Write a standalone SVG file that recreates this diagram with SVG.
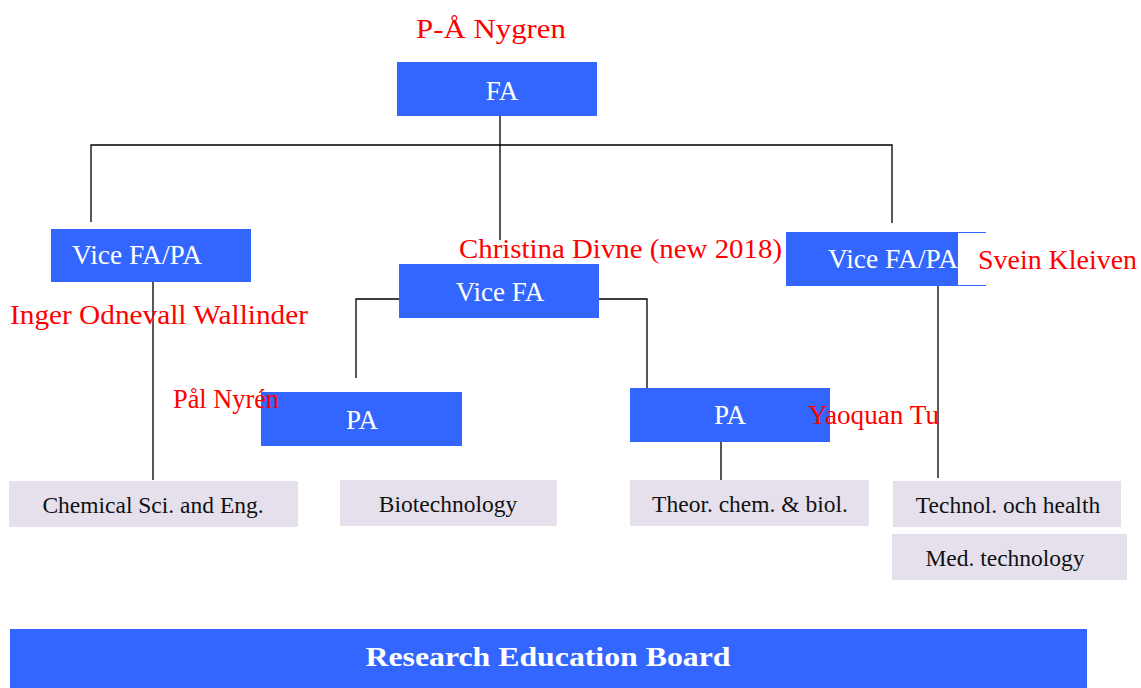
<svg xmlns="http://www.w3.org/2000/svg" width="1141" height="688" viewBox="0 0 1141 688">
<style>
.blue{fill:#3366FF}
.lav{fill:#E5E0EC}
.wt{fill:#FFFFFF;font-family:"Liberation Serif",serif;font-size:27px}
.bt{fill:#111111;font-family:"Liberation Serif",serif;font-size:23.5px;text-anchor:middle}
.red{fill:#FF0000;font-family:"Liberation Serif",serif;font-size:27px}
.ln{stroke:#000000;stroke-width:1.3;fill:none}
</style>
<rect width="1141" height="688" fill="#FFFFFF"/>
<g id="connectors">
<path class="ln" d="M500,116 V240 M91,222 V145 H892 V223 M153,282 V480 M399,299 H356 V378 M599,299 H647 V388 M938,286 V478 M721,442 V480"/>
</g>
<g id="fa">
<rect class="blue" x="397" y="62" width="200" height="54"/>
<text class="wt" x="502" y="100" text-anchor="middle">FA</text>
<text class="red" x="416" y="38" font-size="30" textLength="150" lengthAdjust="spacingAndGlyphs">P-Å Nygren</text>
</g>
<g id="vice-left">
<rect class="blue" x="51" y="229" width="200" height="53"/>
<text class="wt" x="72" y="264" textLength="130" lengthAdjust="spacingAndGlyphs">Vice FA/PA</text>
<text class="red" x="10" y="324" textLength="298" lengthAdjust="spacingAndGlyphs">Inger Odnevall Wallinder</text>
</g>
<g id="vice-center">
<rect class="blue" x="399" y="264" width="200" height="54"/>
<text class="wt" x="500" y="301" text-anchor="middle">Vice FA</text>
<text class="red" x="459" y="258" textLength="323" lengthAdjust="spacingAndGlyphs">Christina Divne (new 2018)</text>
</g>
<g id="vice-right">
<rect class="blue" x="786" y="232" width="200" height="54"/>
<rect x="958" y="233" width="28" height="52" fill="#FFFFFF"/>
<text class="wt" x="828" y="268" textLength="130" lengthAdjust="spacingAndGlyphs">Vice FA/PA</text>
<text class="red" x="978" y="269" textLength="159" lengthAdjust="spacingAndGlyphs">Svein Kleiven</text>
</g>
<g id="pa-left">
<rect class="blue" x="261" y="392" width="201" height="54"/>
<text class="wt" x="362" y="429" text-anchor="middle">PA</text>
<text class="red" x="173" y="408" font-size="24" textLength="106" lengthAdjust="spacingAndGlyphs">Pål Nyrén</text>
</g>
<g id="pa-right">
<rect class="blue" x="630" y="388" width="200" height="54"/>
<text class="wt" x="730" y="424" text-anchor="middle">PA</text>
<text class="red" x="808" y="424" font-size="25" textLength="131" lengthAdjust="spacingAndGlyphs">Yaoquan Tu</text>
</g>
<g id="chem">
<rect class="lav" x="9" y="481" width="289" height="46"/>
<text class="bt" x="153" y="513">Chemical Sci. and Eng.</text>
</g>
<g id="biotech">
<rect class="lav" x="340" y="480" width="217" height="46"/>
<text class="bt" x="448" y="512">Biotechnology</text>
</g>
<g id="theor">
<rect class="lav" x="630" y="480" width="239" height="46"/>
<text class="bt" x="750" y="512">Theor. chem. &amp; biol.</text>
</g>
<g id="technol">
<rect class="lav" x="893" y="481" width="228" height="46"/>
<text class="bt" x="1008" y="513">Technol. och health</text>
</g>
<g id="medtech">
<rect class="lav" x="892" y="534" width="235" height="46"/>
<text class="bt" x="1005" y="566">Med. technology</text>
</g>
<g id="board">
<rect class="blue" x="10" y="629" width="1077" height="59"/>
<text x="548" y="666" fill="#FFFFFF" font-family="Liberation Serif, serif" font-size="27" font-weight="bold" text-anchor="middle" textLength="365" lengthAdjust="spacingAndGlyphs">Research Education Board</text>
</g>
</svg>
